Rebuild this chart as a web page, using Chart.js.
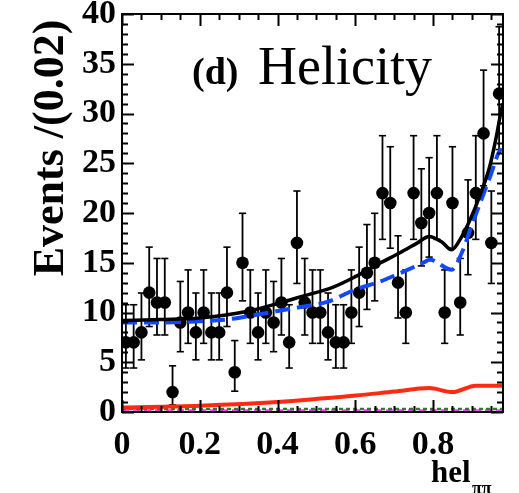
<!DOCTYPE html>
<html>
<head>
<meta charset="utf-8">
<script src="https://cdn.jsdelivr.net/npm/chart.js@4.4.1/dist/chart.umd.min.js"></script>
<style>
  html, body { margin: 0; padding: 0; background: #ffffff; }
  canvas { display: block; }
</style>
</head>
<body>
<canvas id="c" width="519" height="493"></canvas>
<script>
// Helicity distribution, bins of width 0.02
const binCenters = [0.01, 0.03, 0.05, 0.07, 0.09, 0.11, 0.13, 0.15, 0.17, 0.19,
                    0.21, 0.23, 0.25, 0.27, 0.29, 0.31, 0.33, 0.35, 0.37, 0.39,
                    0.41, 0.43, 0.45, 0.47, 0.49, 0.51, 0.53, 0.55, 0.57, 0.59,
                    0.61, 0.63, 0.65, 0.67, 0.69, 0.71, 0.73, 0.75, 0.77, 0.79,
                    0.81, 0.83, 0.85, 0.87, 0.89, 0.91, 0.93, 0.95, 0.97];
const counts = [7, 7, 8, 12, 11, 11, 2, 9, 10, 8,
                10, 8, 8, 12, 4, 15, 10, 8, 10, 9,
                11, 7, 17, 11, 10, 10, 8, 7, 7, 10,
                12, 14, 15, 22, 21, 13, 10, 22, 19, 20,
                22, 10, 21, 11, 18, 22, 28, 17, 32];
// asymmetric (Poisson) error bar ends
const errLow = [4.42, 4.42, 5.24, 8.59, 7.74, 7.74, 0.71, 6.06, 6.90, 5.24,
                6.90, 5.24, 5.24, 8.59, 2.09, 11.17, 6.90, 5.24, 6.90, 6.06,
                7.74, 4.42, 12.92, 7.74, 6.90, 6.90, 5.24, 4.42, 4.42, 6.90,
                8.59, 10.31, 11.17, 17.35, 16.46, 9.45, 6.90, 17.35, 14.68, 15.57,
                17.35, 6.90, 16.46, 7.74, 13.80, 17.35, 22.74, 12.92, 26.38];
const errHigh = [10.78, 10.78, 11.96, 16.57, 15.43, 15.43, 4.64, 13.12, 14.28, 11.96,
                 14.28, 11.96, 11.96, 16.57, 7.18, 19.97, 14.28, 11.96, 14.28, 13.12,
                 15.43, 10.78, 22.21, 15.43, 14.28, 14.28, 11.96, 10.78, 10.78, 14.28,
                 16.57, 18.84, 19.97, 27.77, 26.66, 17.71, 14.28, 27.77, 24.44, 25.56,
                 27.77, 14.28, 26.66, 15.43, 23.33, 27.77, 34.36, 22.21, 38.72];

// Fit components
const totalX = [0, 0.10, 0.20, 0.32, 0.40, 0.47, 0.54, 0.60, 0.665, 0.715, 0.76, 0.79, 0.822, 0.848, 0.869, 0.895, 0.92, 0.946, 0.963, 0.976, 0.98];
const totalY = [9.2, 9.3, 9.45, 10.1, 10.9, 11.7, 12.5, 13.6, 15.0, 16.0, 17.0, 17.65, 17.1, 16.3, 17.3, 19.3, 21.7, 24.7, 27.7, 30.4, 31.0];
const signalX = [0, 0.10, 0.19, 0.27, 0.35, 0.43, 0.46, 0.53, 0.60, 0.663, 0.706, 0.775, 0.792, 0.848, 0.874, 0.899, 0.925, 0.950, 0.967, 0.976];
const signalY = [9.0, 9.0, 9.1, 9.3, 9.8, 10.35, 10.55, 11.1, 12.3, 13.1, 13.8, 15.0, 15.3, 14.3, 16.0, 18.7, 21.4, 24.0, 25.9, 26.5];
const bkgX = [0, 0.2, 0.4, 0.6, 0.7, 0.79, 0.85, 0.91, 0.98];
const bkgY = [0.45, 0.63, 1.0, 1.65, 2.05, 2.4, 2.0, 2.65, 2.65];
const peakingX = [0, 0.98];
const peakingY = [0.3, 0.3];
const otherX = [0, 0.98];
const otherY = [0.15, 0.15];

const xTickValues = [0, 0.2, 0.4, 0.6, 0.8];
const xTickLabels = ['0', '0.2', '0.4', '0.6', '0.8'];
const yTickValues = [0, 5, 10, 15, 20, 25, 30, 35, 40];
const yTickLabels = ['0', '5', '10', '15', '20', '25', '30', '35', '40'];

const SERIF = "'Liberation Serif', 'Times New Roman', serif";

const pts = (xs, ys) => xs.map((x, i) => ({ x: x, y: ys[i] }));

const errSegments = [];
binCenters.forEach((x, i) => {
  errSegments.push({ x: x, y: errLow[i] }, { x: x, y: errHigh[i] }, { x: x, y: null });
});
const capPoints = [];
binCenters.forEach((x, i) => {
  capPoints.push({ x: x, y: errLow[i] }, { x: x, y: errHigh[i] });
});

// frame, inward ticks and text labels
const framePlugin = {
  id: 'frame',
  afterDraw(chart) {
    const { ctx, chartArea: a, scales: { x, y } } = chart;
    ctx.save();
    ctx.strokeStyle = '#000';
    ctx.lineWidth = 2;
    ctx.strokeRect(a.left, a.top, a.right - a.left, a.bottom - a.top);
    ctx.beginPath();
    for (let v = 0; v <= 40; v += 1) {
      const py = Math.round(y.getPixelForValue(v)) + 0.5;
      const len = v % 5 === 0 ? 12 : 6;
      ctx.moveTo(a.left, py); ctx.lineTo(a.left + len, py);
      ctx.moveTo(a.right, py); ctx.lineTo(a.right - len, py);
    }
    for (let k = 0; k * 0.05 <= 0.98; k++) {
      const px = Math.round(x.getPixelForValue(k * 0.05)) + 0.5;
      const len = k % 4 === 0 ? 12 : 6;
      ctx.moveTo(px, a.bottom); ctx.lineTo(px, a.bottom - len);
      ctx.moveTo(px, a.top); ctx.lineTo(px, a.top + len);
    }
    ctx.stroke();

    ctx.fillStyle = '#000';
    ctx.textBaseline = 'alphabetic';
    ctx.textAlign = 'left';
    ctx.font = 'bold 38px ' + SERIF;
    ctx.fillText('(d)', 192, 84);
    ctx.font = '54px ' + SERIF;
    ctx.fillText('Helicity', 258, 84);

    ctx.font = 'bold 31px ' + SERIF;
    ctx.fillText('hel', 431, 482);
    ctx.font = 'bold 18px ' + SERIF;
    ctx.fillText('\u03c0\u03c0', 472, 494);

    ctx.translate(63, 148);
    ctx.rotate(-Math.PI / 2);
    ctx.textAlign = 'center';
    ctx.font = 'bold 44px ' + SERIF;
    ctx.fillText('Events /(0.02)', 0, 0);
    ctx.restore();
  }
};

new Chart(document.getElementById('c'), {
  type: 'scatter',
  data: {
    datasets: [
      {
        type: 'line', label: 'total', data: pts(totalX, totalY),
        borderColor: '#000000', borderWidth: 3.5, pointRadius: 0,
        cubicInterpolationMode: 'monotone', order: 0
      },
      {
        type: 'line', label: 'signal', data: pts(signalX, signalY),
        borderColor: '#1248ff', borderWidth: 4, borderDash: [15, 7], pointRadius: 0,
        cubicInterpolationMode: 'monotone', order: 1
      },
      {
        type: 'line', label: 'background', data: pts(bkgX, bkgY),
        borderColor: '#ff2a12', borderWidth: 4, pointRadius: 0,
        cubicInterpolationMode: 'monotone', order: 2
      },
      {
        type: 'line', label: 'peaking', data: pts(peakingX, peakingY),
        borderColor: '#2e7a2e', borderWidth: 2.5, borderDash: [4, 3], pointRadius: 0,
        order: 3
      },
      {
        type: 'line', label: 'other', data: pts(otherX, otherY),
        borderColor: '#ff3cff', borderWidth: 2.5, borderDash: [7, 4], pointRadius: 0,
        order: 4
      },
      {
        type: 'scatter', label: 'data', data: pts(binCenters, counts),
        pointStyle: 'circle', pointRadius: 6.3, backgroundColor: '#000', borderWidth: 0,
        order: 5
      },
      {
        type: 'scatter', label: 'caps', data: capPoints,
        pointStyle: 'line', pointRadius: 3.6, borderColor: '#000', borderWidth: 1.6,
        order: 6
      },
      {
        type: 'line', label: 'errors', data: errSegments,
        borderColor: '#000', borderWidth: 1.8, pointRadius: 0, spanGaps: false,
        order: 7
      }
    ]
  },
  options: {
    responsive: false,
    animation: false,
    devicePixelRatio: 1,
    layout: { padding: { top: 14, right: 16, left: 0, bottom: 0 } },
    plugins: { legend: { display: false }, tooltip: { enabled: false } },
    scales: {
      x: {
        type: 'linear', min: 0, max: 0.98,
        grid: { display: false, drawTicks: false },
        border: { display: false },
        afterBuildTicks: s => { s.ticks = xTickValues.map(v => ({ value: v })); },
        afterFit: s => { s.height = 81; s.paddingLeft = 0; s.paddingRight = 0; },
        ticks: {
          autoSkip: false, maxRotation: 0, padding: 13, color: '#000',
          font: { family: SERIF, size: 34, weight: 'bold' },
          callback: (v, i) => xTickLabels[i]
        }
      },
      y: {
        type: 'linear', min: 0, max: 40,
        grid: { display: false, drawTicks: false },
        border: { display: false },
        afterBuildTicks: s => { s.ticks = yTickValues.map(v => ({ value: v })); },
        afterFit: s => { s.width = 122; s.paddingTop = 0; s.paddingBottom = 0; },
        ticks: {
          autoSkip: false, padding: 6, color: '#000',
          font: { family: SERIF, size: 34, weight: 'bold' },
          callback: (v, i) => yTickLabels[i]
        }
      }
    }
  },
  plugins: [framePlugin]
});
</script>
</body>
</html>
